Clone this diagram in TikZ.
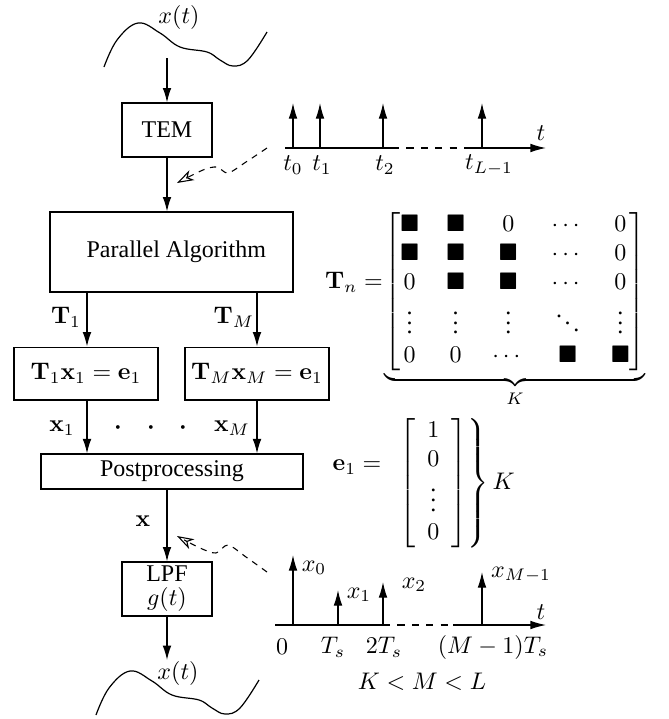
\documentclass[tikz,border=0pt]{standalone}
\usepackage{amsmath,amssymb}
\usepackage[no-math]{fontspec}
\setmainfont{Liberation Serif}
\usetikzlibrary{arrows.meta}
\begin{document}
\begin{tikzpicture}[x=0.41667pt,y=-0.41667pt,
  box/.style={draw, rectangle, inner sep=0pt, line width=0.5pt},
  arr/.style={-{Latex[length=6pt,width=3.6pt]}, line width=0.5pt},
  spike/.style={-{Latex[length=6.5pt,width=3.6pt]}, line width=0.5pt},
  dasharr/.style={dash pattern=on 2.6pt off 2.4pt, line width=0.45pt, -{Stealth[open,length=7pt,width=4.6pt,inset=2pt]}},
  axisdash/.style={dash pattern=on 3pt off 3pt, line width=0.5pt},
  wave/.style={line width=0.5pt},
  lab/.style={inner sep=0pt}]
\useasboundingbox (0,0) rectangle (669,719);

% top signal
\draw[wave] plot[smooth,tension=0.65] coordinates {(104,67) (117,40) (138,23) (160,33) (180,47) (207,52) (220,60) (233,66) (248,60) (267,32)};
\node[lab] (xt1) at (179,17) {$x(t)$};
\coordinate (w1) at (167,58);

% boxes
\node[box, minimum width=37.5pt, minimum height=22.5pt] (tem) at (167,130) {TEM};
\node[box, minimum width=101.25pt, minimum height=33.3pt] (par) at (171.5,252) {\hspace{4pt}Parallel Algorithm};
\node[box, minimum width=60pt, minimum height=22pt] (b1) at (86,373.5) {$\mathbf{T}_1\mathbf{x}_1=\mathbf{e}_1$};
\node[box, minimum width=60pt, minimum height=22pt] (b2) at (257,373.5) {$\mathbf{T}_M\mathbf{x}_M=\mathbf{e}_1$};
\node[box, minimum width=109.2pt, minimum height=14.6pt] (post) at (172,471.5) {Postprocessing};
\node[box, minimum width=37.5pt, minimum height=22.5pt, align=center] (lpf) at (167,589) {LPF\\[-2pt]$g(t)$};

% arrows
\draw[arr] (w1) -- (tem.north);
\draw[arr] (tem.south) -- (tem.south |- par.north);
\draw[arr] (par.south -| 87,0) -- (87,0 |- b1.north);
\draw[arr] (par.south -| b2.north) -- (b2.north);
\draw[arr] (b1.south -| 87,0) -- (87,0 |- post.north);
\draw[arr] (b2.south) -- (b2.south |- post.north);
\draw[arr] (post.south -| lpf.north) -- (lpf.north);
\coordinate (w2) at (167,660);
\draw[arr] (lpf.south) -- (w2);

% labels on arrows
\node[lab] (lT1) at (66,317) {$\mathbf{T}_1$};
\node[lab] (lTM) at (234,317) {$\mathbf{T}_M$};
\node[lab] (lx1) at (62,428) {$\mathbf{x}_1$};
\node[lab] (lxM) at (232,428) {$\mathbf{x}_M$};
\node[lab] (d1) at (118,428) {$\boldsymbol{\cdot}$};
\node[lab] (d2) at (151,428) {$\boldsymbol{\cdot}$};
\node[lab] (d3) at (183,428) {$\boldsymbol{\cdot}$};
\node[lab] (lx) at (143,521) {$\mathbf{x}$};

% bottom signal
\node[lab] (xt2) at (178,673) {$x(t)$};
\begin{scope}[shift={(-8,648)}]
\draw[wave] plot[smooth,tension=0.65] coordinates {(104,67) (117,40) (138,23) (160,33) (180,47) (207,52) (220,60) (233,66) (248,60) (267,32)};
\end{scope}

% top spike train
\coordinate (ta0) at (285,148);
\coordinate (ta1) at (392,148);
\coordinate (ta2) at (465,148);
\coordinate (ta3) at (546,148);
\draw[line width=0.5pt] (ta0) -- (ta1);
\draw[axisdash] (ta1) -- (ta2);
\draw[spike] (ta2) -- (ta3);
\foreach \i/\xx in {0/293,1/320,2/383,3/482}{
  \coordinate (ts\i) at (\xx,148);
  \coordinate (tt\i) at (\xx,103);
  \draw[spike] (ts\i) -- (tt\i);
}
\node[lab] (lt0) at (293,165) {$t_0$};
\node[lab] (lt1) at (322,165) {$t_1$};
\node[lab] (lt2) at (385,165) {$t_2$};
\node[lab] (lt3) at (489,165) {$t_{L-1}$};
\node[lab] (lt) at (541,133) {$t$};

% dashed pointers
\coordinate (p1s) at (267,148);
\coordinate (p1e) at (177,183);
\draw[dasharr] plot[smooth,tension=0.5] coordinates {(267,148) (246,162) (228,173) (217,167) (203,170) (177,183)};
\coordinate (p2s) at (267,572);
\coordinate (p2e) at (177,536);
\draw[dasharr] plot[smooth,tension=0.5] coordinates {(267,572) (246,557) (228,545) (216,553) (200,548) (177,536)};

% matrix T_n
\node[lab] (tnlab) at (354,282) {$\mathbf{T}_n=$};
\node[lab, anchor=north] (tmat) at (515,211) {$\setlength{\arraycolsep}{5.7pt}\underbrace{\begin{bmatrix}
\blacksquare & \blacksquare & 0 & \cdots & 0\\
\blacksquare & \blacksquare & \blacksquare & \cdots & 0\\
0 & \blacksquare & \blacksquare & \cdots & 0\\
\vdots & \vdots & \vdots & \ddots & \vdots\\
0 & 0 & \cdots & \blacksquare & \blacksquare
\end{bmatrix}}_{K}$};

% vector e_1
\node[lab] (e1lab) at (357,467) {$\mathbf{e}_1=$};
\node[lab, anchor=north west] (e1vec) at (396,417) {$\left.\left[\begin{array}{c}
1\\ 0\\ \vdots\\ 0
\end{array}\right]\right\}K$};

% bottom spike train
\coordinate (sa0) at (275,625);
\coordinate (sa1) at (383,625);
\coordinate (sa2) at (453,625);
\coordinate (sa3) at (546,625);
\draw[line width=0.5pt] (sa0) -- (sa1);
\draw[axisdash] (sa1) -- (sa2);
\draw[spike] (sa2) -- (sa3);
\foreach \i/\xx/\yy in {0/293/555,1/338/590,2/383/582,3/482/572}{
  \coordinate (ss\i) at (\xx,625);
  \coordinate (st\i) at (\xx,\yy);
  \draw[spike] (ss\i) -- (st\i);
}
\node[lab] (lx0) at (314,568) {$x_0$};
\node[lab] (lx1b) at (359,595) {$x_1$};
\node[lab] (lx2b) at (414,585) {$x_2$};
\node[lab] (lxM1) at (521,575) {$x_{M-1}$};
\node[lab] (ltb) at (541,612) {$t$};
\node[lab] (l0) at (282,647) {$0$};
\node[lab] (lTs) at (333,647) {$T_s$};
\node[lab] (l2Ts) at (384,647) {$2T_s$};
\node[lab] (lMTs) at (493,647) {$(M-1)T_s$};
\node[lab] (kml) at (422,682) {$K<M<L$};
\end{tikzpicture}
\end{document}
